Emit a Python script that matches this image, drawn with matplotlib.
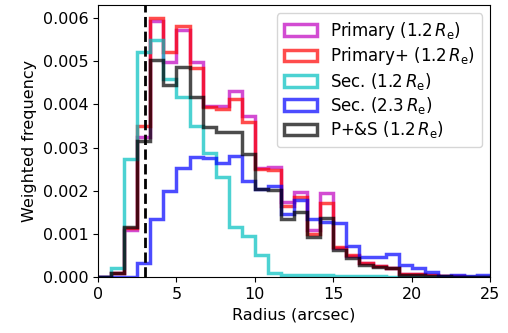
import numpy as np
import matplotlib
matplotlib.use("Agg")
import matplotlib.pyplot as plt

# histogram bins: 30 bins between 0 and 25 arcsec
edges = np.linspace(0, 25, 31)

# weighted frequencies per bin (units of 1e-3)
primary = [0, 0.1, 1.09, 3.25, 5.93, 4.98, 5.71, 4.97, 3.96, 3.95,
           4.30, 3.72, 2.53, 2.55, 1.74, 1.98, 1.09, 1.94, 0.68, 0.49,
           0.33, 0.25, 0.20, 0.08, 0.06, 0.04, 0.03, 0.02, 0.01, 0.01]
primary_plus = [0, 0.1, 1.14, 3.50, 5.99, 5.20, 5.82, 4.85, 3.94, 3.90,
                4.12, 3.60, 2.50, 2.49, 1.64, 1.86, 1.00, 1.71, 0.70, 0.50,
                0.33, 0.25, 0.20, 0.08, 0.06, 0.04, 0.03, 0.02, 0.01, 0.01]
sec_12 = [0, 0.2, 2.73, 5.20, 5.50, 4.59, 4.16, 3.50, 2.88, 2.32,
          1.17, 0.95, 0.51, 0.085, 0.05, 0.05, 0.04, 0.05, 0.03, 0.02,
          0.02, 0.02, 0.01, 0, 0, 0, 0, 0, 0, 0]
sec_23 = [0, 0, 0, 0.32, 1.34, 2.00, 2.52, 2.79, 2.75, 2.65,
          2.81, 2.23, 2.03, 2.12, 1.47, 1.78, 1.35, 1.28, 1.26, 0.73,
          0.46, 0.47, 0.53, 0.28, 0.20, 0.11, 0.03, 0.04, 0.03, 0.04]
p_and_s = [0, 0.1, 1.16, 3.15, 5.03, 4.45, 4.87, 4.16, 3.47, 3.35,
           3.35, 2.85, 2.04, 2.02, 1.34, 1.51, 0.92, 1.36, 0.63, 0.44,
           0.28, 0.24, 0.20, 0.05, 0.05, 0.03, 0.02, 0.01, 0.01, 0.01]

series = [
    (primary, "m", r"Primary (1.2$\,R_{\rm e}$)"),
    (primary_plus, "r", r"Primary+ (1.2$\,R_{\rm e}$)"),
    (sec_12, "c", r"Sec. (1.2$\,R_{\rm e}$)"),
    (sec_23, "b", r"Sec. (2.3$\,R_{\rm e}$)"),
    (p_and_s, "k", r"P+&S (1.2$\,R_{\rm e}$)"),
]

r_cut = 3.0

plt.rcParams["font.size"] = 11.5

fig = plt.figure(figsize=(5.08, 3.33), dpi=100)
ax = fig.add_axes([0.193, 0.168, 0.772, 0.817])

centers = 0.5 * (edges[:-1] + edges[1:])
for vals, col, lab in series:
    ax.hist(centers, bins=edges, weights=np.array(vals) * 1e-3,
            histtype="step", color=col, lw=2.5, alpha=0.7, label=lab)

ax.axvline(r_cut, color="k", ls="--", lw=2)

ax.set_xlim(0, 25)
ax.set_ylim(0, 0.0063)
ax.set_yticks(np.arange(0, 0.0061, 0.001))
ax.set_xlabel("Radius (arcsec)")
ax.set_ylabel("Weighted frequency")
ax.legend(loc="upper right", fontsize=12, labelspacing=0.2)

fig.savefig("out.png", dpi=100)
